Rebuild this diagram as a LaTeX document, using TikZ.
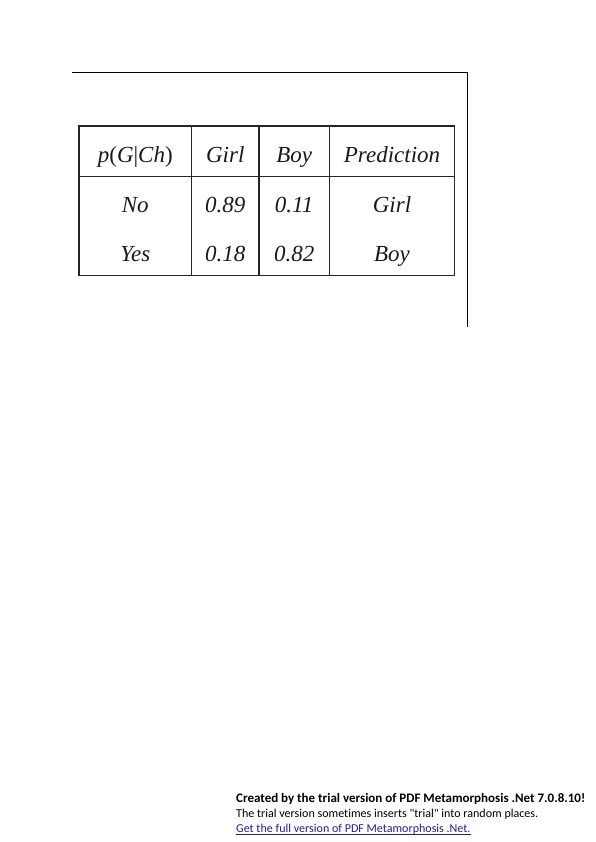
\documentclass[tikz,border=0pt]{standalone}
\usepackage{fontspec}
\setmainfont{Liberation Serif}
\newfontfamily\footfont[Ligatures=NoCommon]{Carlito}
\tikzset{
  cell/.style={font=\fontsize{23}{23}\selectfont\itshape, anchor=base, inner sep=0pt, text=black!90},
  rule/.style={line width=1.3pt, draw=black!85},
  frame/.style={line width=0.9pt, draw=black},
  foot/.style={font=\footfont\fontsize{12.05}{15}\selectfont, anchor=base west, inner sep=0pt},
  footbold/.style={font=\footfont\fontsize{13}{15}\selectfont\bfseries, anchor=base west, inner sep=0pt}
}
\begin{document}
\begin{tikzpicture}[x=1pt,y=-1pt]
\useasboundingbox (0,0) rectangle (596,842);
% frame lines
\coordinate (fa) at (72,72.3);
\coordinate (fb) at (467.5,72.3);
\coordinate (fc) at (467.5,327);
\draw[frame] (fa) -- (fb) -- (fc);
% table
\coordinate (tl) at (79,126);
\coordinate (br) at (454.5,275.5);
\draw[rule] (tl) rectangle (br);
\draw[rule] (79,176.7) -- (454.5,176.7);
\draw[rule] (191.7,126) -- (191.7,275.5);
\draw[rule] (259,126) -- (259,275.5);
\draw[rule] (329.5,126) -- (329.5,275.5);
% header
\node[cell] (h0) at (135.3,163) {p\textup{(}G\textup{|}Ch\textup{)}};
\node[cell] (h1) at (225.3,163) {Girl};
\node[cell] (h2) at (294.2,163) {Boy};
\node[cell] (h3) at (392,163) {Prediction};
% rows
\node[cell] (a0) at (135.3,212.5) {No};
\node[cell] (a1) at (225.3,212.5) {0.89};
\node[cell] (a2) at (294.2,212.5) {0.11};
\node[cell] (a3) at (392,212.5) {Girl};
\node[cell] (b0) at (135.3,261.5) {Yes};
\node[cell] (b1) at (225.3,261.5) {0.18};
\node[cell] (b2) at (294.2,261.5) {0.82};
\node[cell] (b3) at (392,261.5) {Boy};
% footer
\node[footbold] (f1) at (236,802) {Created by the trial version of PDF Metamorphosis .Net 7.0.8.10!};
\node[foot] (f2) at (236,817) {The trial version sometimes inserts "trial" into random places.};
\node[foot, text={rgb,255:red,30;green,30;blue,160}] (f3) at (236,832) {Get the full version of PDF Metamorphosis .Net.};
\draw[draw={rgb,255:red,30;green,30;blue,160}, line width=0.6pt] ([yshift=-1.8pt]f3.base west) -- ([yshift=-1.8pt]f3.base east);
\end{tikzpicture}
\end{document}
